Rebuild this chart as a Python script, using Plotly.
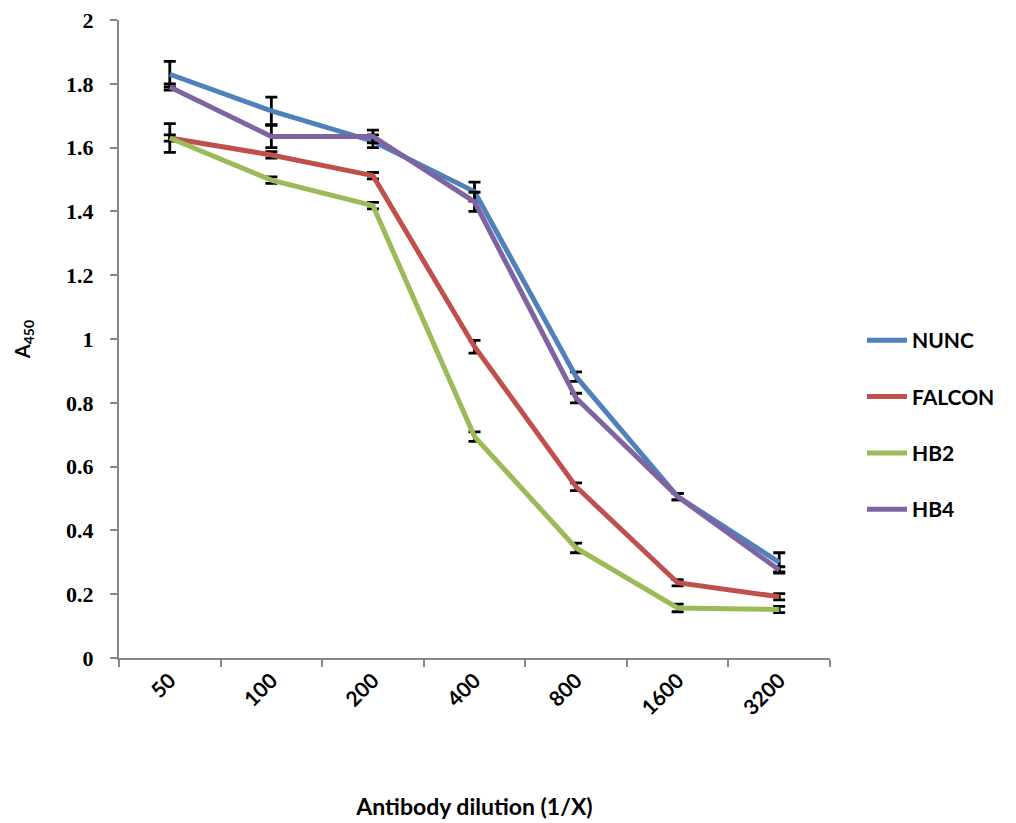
import plotly.graph_objects as go

categories = ["50", "100", "200", "400", "800", "1600", "3200"]

nunc = [1.83, 1.715, 1.62, 1.462, 0.882, 0.506, 0.300]
nunc_err = [0.04, 0.043, 0.02, 0.03, 0.015, 0.01, 0.03]

falcon = [1.63, 1.577, 1.512, 0.976, 0.537, 0.236, 0.192]
falcon_err = [0.045, 0.01, 0.01, 0.02, 0.012, 0.01, 0.01]

hb2 = [1.63, 1.498, 1.418, 0.694, 0.345, 0.157, 0.152]
hb2_err = [0.01, 0.01, 0.01, 0.015, 0.015, 0.012, 0.01]

hb4 = [1.79, 1.635, 1.635, 1.43, 0.815, 0.506, 0.276]
hb4_err = [0.01, 0.035, 0.02, 0.03, 0.015, 0.01, 0.01]

series = [
    ("NUNC", nunc, nunc_err, "#4F81BD"),
    ("FALCON", falcon, falcon_err, "#C0504D"),
    ("HB2", hb2, hb2_err, "#9BBB59"),
    ("HB4", hb4, hb4_err, "#8064A2"),
]

FONT = "Lato, Liberation Sans, Arial"
SERIF = "Liberation Serif, DejaVu Serif, serif"

fig = go.Figure()
for name, vals, errs, color in series:
    fig.add_trace(go.Scatter(
        x=categories, y=vals, name=name, mode="lines", legendgroup=name,
        line=dict(color=color, width=5),
        error_y=dict(type="data", array=errs, visible=True,
                     color="black", thickness=2.8, width=6),
    ))

fig.update_layout(
    width=1016, height=823,
    paper_bgcolor="white", plot_bgcolor="white",
    margin=dict(l=111, r=194, t=12, b=173),
    font=dict(family=FONT, size=18, color="black", weight="bold"),
    showlegend=True,
    legend=dict(x=1.045, y=0.365, xanchor="left", yanchor="middle",
                font=dict(family=FONT, size=21, color="black", weight="bold"),
                tracegroupgap=26, itemwidth=40, bgcolor="rgba(0,0,0,0)"),
    xaxis=dict(
        type="category", range=[-0.5, 6.5], automargin=False,
        tickson="boundaries", ticks="outside", ticklen=7, tickwidth=2,
        tickcolor="#868686", showline=True, linecolor="#868686", linewidth=2,
        showgrid=False, zeroline=False, tickangle=-45,
        tickfont=dict(family=FONT, size=21, color="black", weight="bold"),
        title=dict(text="Antibody dilution (1/X)", standoff=80,
                   font=dict(family=FONT, size=23, color="black", weight="bold")),
    ),
    yaxis=dict(
        range=[0, 2], dtick=0.2, tickformat="~g", automargin=False,
        ticks="outside", ticklen=7, tickwidth=2, tickcolor="#868686",
        showline=True, linecolor="#868686", linewidth=2,
        showgrid=False, zeroline=False, ticklabeloverflow="allow",
        ticklabelstandoff=12,
        tickfont=dict(family=SERIF, size=22, color="black", weight="bold"),
        title=dict(text="A<sub>450</sub>", standoff=30,
                   font=dict(family=FONT, size=20, color="black", weight="bold")),
    ),
)

fig.write_html("out.html")
